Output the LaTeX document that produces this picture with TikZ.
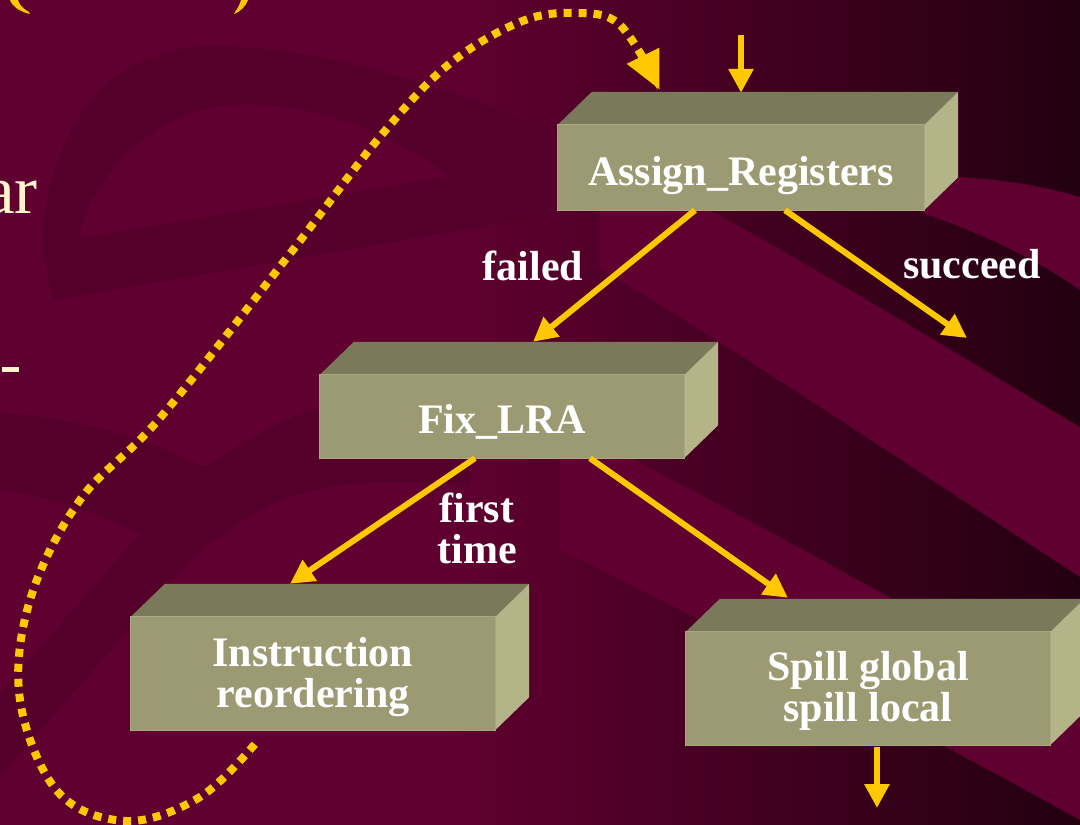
\documentclass[tikz,border=0pt]{standalone}
\usepackage{fontspec}
\setmainfont{Liberation Serif}
\usetikzlibrary{arrows.meta,calc}
\definecolor{maroon}{HTML}{600030}
\definecolor{bgdark}{HTML}{230010}
\definecolor{swirl}{HTML}{54002B}
\definecolor{front}{HTML}{9B9A73}
\definecolor{topf}{HTML}{7A7A5A}
\definecolor{sidef}{HTML}{B4B489}
\definecolor{edgef}{HTML}{A9A882}
\definecolor{gold}{HTML}{FFC800}
\definecolor{cream}{HTML}{FFF5CC}
\newcommand{\cubefaces}[1]{%
  \fill[topf] (#1.north west) -- ++(34,-33) -- ($(#1.north east)+(34,-33)$) -- (#1.north east) -- cycle;
  \fill[sidef] (#1.north east) -- ++(34,-33) -- ($(#1.south east)+(34,-33)$) -- (#1.south east) -- cycle;
  \draw[edgef, line width=1pt] (#1.north west) rectangle (#1.south east);}
\begin{document}
\begin{tikzpicture}[x=1pt,y=-1pt,
  olivebox/.style={rectangle, fill=front, inner sep=0pt, text=white,
    font=\fontsize{42}{41}\selectfont\bfseries, align=center,
    minimum width=364pt, minimum height=#1},
  lbl/.style={text=white, font=\fontsize{42}{41}\selectfont\bfseries, align=center, inner sep=0pt},
  arr/.style={draw=gold, line width=6pt, -{Triangle[length=24pt,width=24pt]}},
  dots/.style={draw=gold, line width=8pt, dash pattern=on 8pt off 7pt, -{Triangle[length=38pt,width=34pt]}}]
\useasboundingbox (0,0) rectangle (1080,825);
\clip (0,0) rectangle (1080,825);
% background
\fill[maroon] (0,0) rectangle (1080,825);
\shade[left color=maroon, right color=bgdark] (450,0) rectangle (1080,825);
% light bands on the right
\fill[maroon] (920,212) -- (958,177) .. controls (1010,180) and (1050,188) .. (1080,197)
  -- (1080,290) .. controls (1040,262) and (990,236) .. (920,212) -- cycle;
\fill[maroon] (600,205) -- (700,205) .. controls (820,270) and (950,350) .. (1080,427)
  -- (1080,577) .. controls (900,460) and (760,365) .. (600,268) -- cycle;
\fill[maroon] (560,421) .. controls (740,515) and (900,600) .. (1080,707)
  -- (1080,820) .. controls (900,720) and (740,640) .. (560,549) -- cycle;
% swirls on the left
\fill[swirl] (55,300) .. controls (30,240) and (45,150) .. (103,86)
  .. controls (140,55) and (180,45) .. (217,47)
  .. controls (300,45) and (420,75) .. (560,135) -- (560,213) -- cycle;
\fill[maroon] (79,238) .. controls (90,180) and (150,110) .. (234,105)
  .. controls (320,100) and (400,140) .. (448,176) -- cycle;
\fill[swirl] (0,413) .. controls (80,418) and (150,440) .. (205,467)
  .. controls (245,440) and (285,418) .. (330,402) -- (470,402) -- (470,486)
  .. controls (400,478) and (320,480) .. (270,505)
  .. controls (240,520) and (215,540) .. (190,560) -- (0,777) -- (0,693) -- (140,533)
  .. controls (90,510) and (40,495) .. (0,490) -- cycle;
% cut-off text of the slide
\node[anchor=base east, inner sep=0pt, text=cream, font=\fontsize{69}{69}\selectfont] (ar) at (38,213) {ar};
\fill[cream] (2,367) rectangle (19,372);
\fill[gold] (10,0) .. controls (12,6) and (20,12) .. (30,14) -- (29,12) .. controls (22,8) and (19,4) .. (18,0) -- cycle;
\fill[gold] (248,0) .. controls (246,6) and (240,12) .. (234,14) -- (235,12) .. controls (238,8) and (240,4) .. (241,0) -- cycle;
% boxes
\node[olivebox=85pt, minimum width=366pt, text height=35pt, text depth=0pt] (as) at (741,167.5) {Assign\_Registers};
\cubefaces{as}
\node[olivebox=83pt, text height=33pt, text depth=0pt] (fix) at (502,416.5) {Fix\_LRA};
\cubefaces{fix}
\node[olivebox=113pt] (ir) at (313,673.5) {\rule{0pt}{37pt}Instruction\\reordering};
\cubefaces{ir}
\node[olivebox=113pt] (sp) at (868,688.5) {\rule{0pt}{34pt}Spill global\\spill local};
\cubefaces{sp}
% labels
\node[lbl] (lfailed) at (533,266) {failed};
\node[lbl] (lsucc) at (972,264) {succeed};
\node[lbl] (lfirst) at (477,528) {first\\time};
% connectors
\coordinate (in) at (741,35);
\coordinate (succ) at (967,338);
\coordinate (out) at (877,808);
\draw[arr] (in) -- ($(as.north)+(0,-32)$);
\draw[arr] ($(as.south)+(-46,0)$) -- ($(fix.north)+(31,-33)$);
\draw[arr] ($(as.south)+(44,0)$) -- (succ);
\draw[arr] ($(fix.south)+(-27,0)$) -- ($(ir.north)+(-23,-33)$);
\draw[arr] ($(fix.south)+(88,0)$) -- ($(sp.north)+(-80,-34)$);
\draw[arr] ($(sp.south)+(9,2)$) -- (out);
% dotted loop
\coordinate (ds) at ($(ir.south west)+(124,14)$);
\coordinate (de) at ($(as.north west)+(102,-35)$);
\draw[dots] plot[smooth, tension=0.6] coordinates {(ds) (200,797) (127,821) (58,792) (20,700) (30,600) (80,500) (160,418) (289,255) (379,138) (448,65) (520,22) (575,13) (620,25) (de)};
\end{tikzpicture}
\end{document}
